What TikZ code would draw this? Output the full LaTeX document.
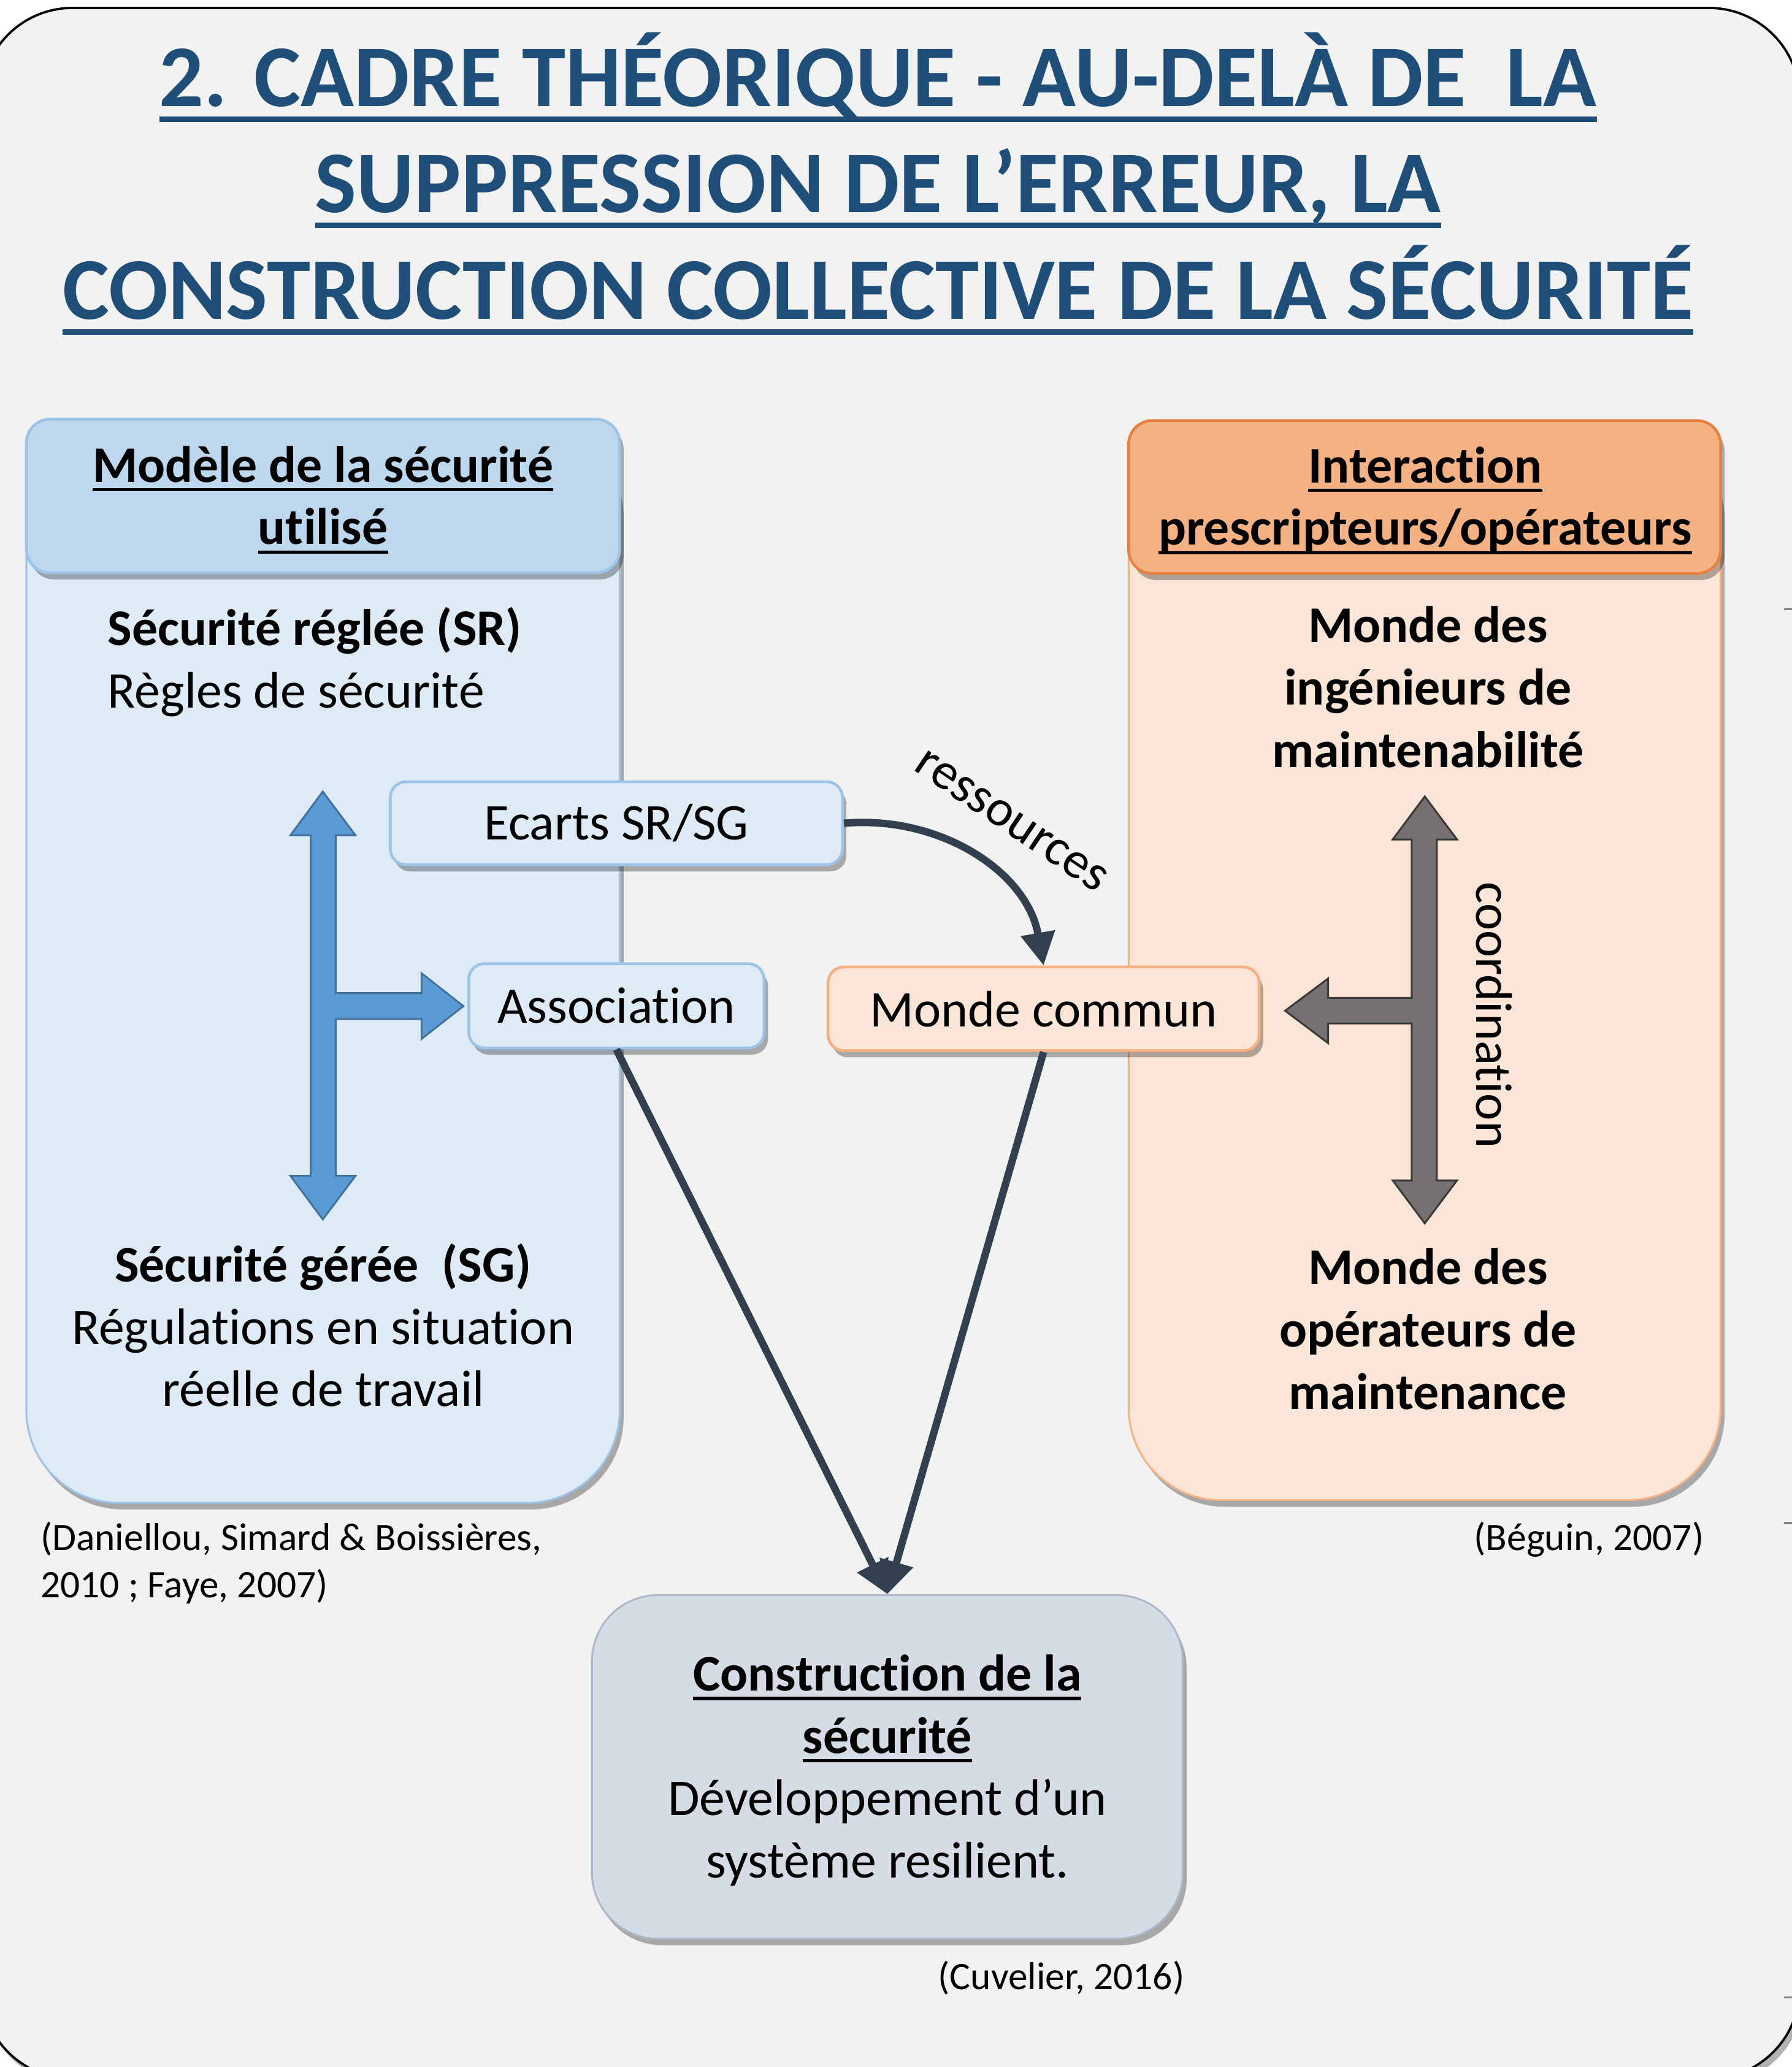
\documentclass[tikz,border=0pt]{standalone}
\usepackage{fontspec}
\setmainfont{Carlito}[Ligatures=NoCommon]
\usetikzlibrary{arrows.meta,shadows}

\definecolor{fond}{HTML}{F2F2F2}
\definecolor{titrebleu}{HTML}{1F4E79}
\definecolor{bleuclair}{HTML}{DEEBF7}
\definecolor{bleutete}{HTML}{BDD7EE}
\definecolor{bleubord}{HTML}{9DC3E6}
\definecolor{bleufleche}{HTML}{5B9BD5}
\definecolor{bleuflechebord}{HTML}{41719C}
\definecolor{orangeclair}{HTML}{FBE5D6}
\definecolor{orangetete}{HTML}{F4B183}
\definecolor{orangebord}{HTML}{E5823F}
\definecolor{orangeclairbord}{HTML}{F4B183}
\definecolor{grisfleche}{HTML}{767171}
\definecolor{grisflechebord}{HTML}{3B3838}
\definecolor{grisbleu}{HTML}{D6DCE5}
\definecolor{grisbleubord}{HTML}{ADB9CA}
\definecolor{ardoise}{HTML}{323F4F}

\newcommand{\ul}[1]{\setbox0=\hbox{#1}\leavevmode\rlap{\rule[-0.18em]{\wd0}{0.065em}}\box0}
\newcommand{\corps}{\fontsize{11.1}{13.46}\selectfont}
\newcommand{\petit}{\fontsize{8.4}{10.2}\selectfont}
\newcommand{\grand}{\fontsize{19}{22.9}\selectfont\bfseries}

\tikzset{
  ombre/.style={drop shadow={shadow xshift=0.3mm, shadow yshift=-0.5mm, opacity=0.3, fill=black}},
  cadre/.style={draw=black, line width=0.5pt, fill=fond, rounded corners=6.9mm, ombre},
  panneau/.style={rectangle, rounded corners=7mm, line width=0.4pt, inner sep=0pt, ombre},
  entete/.style={rectangle, rounded corners=1.8mm, line width=0.6pt, inner sep=0pt, ombre},
  boite/.style={rectangle, rounded corners=1.2mm, line width=0.6pt, inner sep=0pt, font=\corps, ombre},
  titre/.style={inner sep=0pt, font=\grand, text=titrebleu},
  texte/.style={inner sep=0pt, font=\corps, align=center},
  ref/.style={inner sep=0pt, font=\petit, align=left},
  lien/.style={draw=ardoise, line width=0.56mm, -{Triangle[length=2.5mm, width=2.5mm]}},
  flechebleue/.style={fill=bleufleche, draw=bleuflechebord, line width=0.4pt},
  flechegrise/.style={fill=grisfleche, draw=grisflechebord, line width=0.4pt}
}

\begin{document}
\begin{tikzpicture}[x=0.1mm, y=0.1mm]
  \useasboundingbox (0,0) rectangle (1359,-1568);
  % fond de la diapositive
  \draw[cadre] (-14,-6) rectangle (1365,-1577);
  \foreach \y in {462,1155,1515}
    \draw[gray, line width=0.4pt] (1353,-\y) -- (1359,-\y);

  % titre
  \node[titre, anchor=base] (titre1) at (666,-80.5) {\ul{2. CADRE THÉORIQUE - AU-DELÀ DE\ \ LA}};
  \node[titre, anchor=base] (titre2) at (666,-161) {\ul{SUPPRESSION DE L’ERREUR, LA}};
  \node[titre, anchor=base] (titre3) at (666,-242) {\ul{CONSTRUCTION COLLECTIVE DE LA SÉCURITÉ}};

  % panneau de gauche
  \node[panneau, draw=bleubord, fill=bleuclair, minimum width=45mm, minimum height=82.2mm] (modele) at (245,-729) {};
  \node[entete, draw=bleubord, fill=bleutete, minimum width=45mm, minimum height=11.65mm] (modeletete) at (245,-376.25) {};
  \node[texte, font=\corps\bfseries, anchor=base] (modeletitre) at (245,-413) {\ul{Modèle de la sécurité}\\\ul{utilisé}};
  \node[texte, align=left, anchor=base west] (sr) at (81,-537) {\textbf{Sécurité réglée (SR)}\\Règles de sécurité};
  \node[texte, anchor=base] (sg) at (245,-1067) {\textbf{Sécurité gérée\ \ (SG)}\\Régulations en situation\\réelle de travail};

  % panneau de droite
  \node[panneau, draw=orangeclairbord, fill=orangeclair, minimum width=44.9mm, minimum height=81.9mm] (interaction) at (1080.5,-728.5) {};
  \node[entete, draw=orangebord, fill=orangetete, minimum width=44.9mm, minimum height=11.6mm] (interactiontete) at (1080.5,-377) {};
  \node[texte, font=\corps\bfseries, anchor=base] (interactiontitre) at (1081,-413.5) {\ul{Interaction}\\\ul{prescripteurs/opérateurs}};
  \node[texte, font=\corps\bfseries, anchor=base] (ingenieurs) at (1083,-582) {Monde des\\ingénieurs de\\maintenabilité};
  \node[texte, font=\corps\bfseries, anchor=base] (operateurs) at (1083,-1069) {Monde des\\opérateurs de\\maintenance};

  % fleches blocs
  \filldraw[flechebleue] (244.8,-600.5) -- (269.6,-633.6) -- (254.6,-633.6) -- (254.6,-753.4) -- (319.7,-753.4)
    -- (319.7,-738.3) -- (351.5,-763.2) -- (319.7,-788.1) -- (319.7,-773) -- (254.6,-773) -- (254.6,-892)
    -- (269.6,-892) -- (244.8,-925) -- (220.3,-892) -- (235.7,-892) -- (235.7,-633.6) -- (220.3,-633.6) -- cycle;
  \filldraw[flechegrise] (1080.6,-604.2) -- (1105.1,-636.8) -- (1089.8,-636.8) -- (1089.8,-895.4) -- (1105.1,-895.4)
    -- (1080.6,-928) -- (1056.3,-895.4) -- (1070.7,-895.4) -- (1070.7,-776.4) -- (1007.3,-776.4) -- (1007.3,-791.3)
    -- (974.7,-766.7) -- (1007.3,-742.3) -- (1007.3,-757) -- (1070.7,-757) -- (1070.7,-636.8) -- (1056.3,-636.8) -- cycle;

  % boites du milieu
  \node[boite, draw=bleubord, fill=bleuclair, minimum width=34.3mm, minimum height=6.3mm] (ecarts) at (467.5,-624.5) {Ecarts SR/SG};
  \node[boite, draw=bleubord, fill=bleuclair, minimum width=22.4mm, minimum height=6.4mm] (association) at (467.5,-763) {Association};
  \node[boite, draw=orangeclairbord, fill=orangeclair, minimum width=32.7mm, minimum height=6.35mm] (monde) at (791.5,-765.25) {Monde commun};
  \node[texte, rotate=-34] (ressources) at (767,-623) {ressources};
  \node[texte, rotate=-90] (coordination) at (1133,-770) {coordination};

  % construction de la securite
  \node[panneau, rounded corners=5mm, draw=grisbleubord, fill=grisbleu, minimum width=44.8mm, minimum height=26.06mm] (construction) at (673,-1340.3) {};
  \node[texte, anchor=base] (constructiontexte) at (673,-1424.5) {\textbf{\ul{Construction de la}}\\\textbf{\ul{sécurité}}\\Développement d’un\\système resilient.};

  % liens
  \draw[lien] (ecarts.east) to[out=5, in=100] (monde.north);
  \draw[lien] (association.south) -- (construction.north);
  \draw[lien] (monde.south) -- (construction.north);

  % references
  \node[ref, anchor=base west] (daniellou) at (30,-1212) {(Daniellou, Simard \& Boissières,\\2010 ; Faye, 2007)};
  \node[ref, anchor=base east] (beguin) at (1293,-1176) {(Béguin, 2007)};
  \node[ref, anchor=base east] (cuvelier) at (899,-1509) {(Cuvelier, 2016)};
\end{tikzpicture}
\end{document}
